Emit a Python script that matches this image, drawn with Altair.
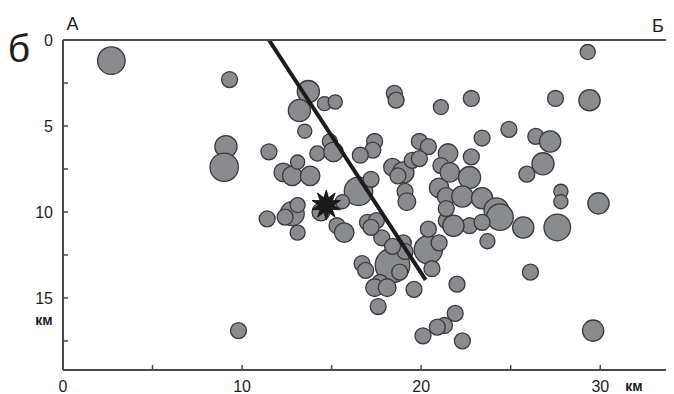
import math
import altair as alt
import pandas as pd

# ---- data (distance along profile, depth, magnitude) ----
dist_km = [
    2.7, 9.3, 9.1, 9.0, 11.5, 9.8, 11.4, 13.7, 13.2, 14.6,
    15.2, 13.5, 14.2, 14.9, 15.1, 12.3, 12.8, 13.1, 13.8, 12.8,
    12.4, 13.1, 13.1, 14.4, 15.3, 15.7, 18.5, 18.6, 21.1, 17.4,
    17.3, 16.6, 19.9, 20.4, 21.5, 18.4, 19.0, 18.7, 19.5, 21.1,
    16.5, 17.2, 15.6, 19.1, 19.2, 21.0, 21.4, 22.8, 27.5, 23.4,
    24.9, 26.4, 27.2, 22.8, 26.8, 25.9, 21.6, 22.7, 22.3, 23.4,
    24.2, 27.8, 27.8, 24.4, 22.7, 23.4, 25.7, 27.6, 23.7, 26.1,
    22.0, 21.9, 21.3, 20.9, 20.1, 22.3, 29.9, 29.6, 29.3, 29.4,
    19.9, 18.4, 20.4, 16.7, 16.9, 17.7, 17.4, 18.1, 17.6, 18.8,
    19.6, 20.6, 17.8, 17.0, 17.5, 17.2, 19.0, 19.1, 18.4, 20.4,
    21.0, 21.4, 21.8, 21.4,
]
depth_km = [
    1.2, 2.3, 6.2, 7.4, 6.5, 16.9, 10.4, 3.0, 4.1, 3.7,
    3.6, 5.3, 6.6, 5.9, 6.5, 7.7, 7.9, 7.1, 7.9, 10.1,
    10.3, 9.6, 11.2, 10.0, 10.8, 11.2, 3.1, 3.5, 3.9, 5.9,
    6.4, 6.7, 5.9, 6.2, 6.6, 7.4, 7.7, 7.9, 7.0, 7.3,
    8.8, 8.1, 9.4, 8.8, 9.4, 8.6, 9.1, 3.4, 3.4, 5.7,
    5.2, 5.6, 5.9, 6.8, 7.2, 7.8, 7.7, 8.0, 9.1, 9.2,
    9.9, 8.8, 9.4, 10.3, 10.8, 10.6, 10.9, 10.9, 11.7, 13.5,
    14.2, 15.9, 16.6, 16.7, 17.2, 17.5, 9.5, 16.9, 0.7, 3.5,
    6.9, 13.1, 12.2, 13.0, 13.4, 14.1, 14.4, 14.4, 15.5, 13.5,
    14.5, 13.3, 11.5, 10.6, 10.5, 10.9, 11.8, 12.3, 12.0, 11.0,
    11.8, 10.5, 10.8, 9.8,
]
magnitude = [
    3.1, 1.8, 2.5, 3.2, 1.8, 1.8, 1.8, 2.5, 2.5, 1.6,
    1.6, 1.6, 1.7, 1.7, 2.2, 2.1, 2.2, 1.6, 2.2, 2.7,
    1.8, 1.7, 1.7, 2.0, 1.8, 2.2, 1.8, 1.8, 1.7, 1.8,
    1.8, 1.8, 1.8, 1.8, 2.2, 2.0, 2.4, 1.8, 1.8, 1.8,
    3.2, 1.8, 1.6, 1.8, 2.0, 2.2, 2.0, 1.8, 1.8, 1.8,
    1.8, 1.8, 2.4, 1.8, 2.5, 1.8, 2.2, 2.5, 2.4, 2.4,
    2.8, 1.6, 1.6, 3.0, 1.8, 1.8, 2.4, 3.0, 1.7, 1.8,
    1.8, 1.8, 1.8, 1.8, 1.8, 1.8, 2.4, 2.4, 1.7, 2.4,
    1.8, 3.9, 3.2, 1.8, 1.8, 1.8, 2.0, 2.0, 1.8, 1.8,
    1.8, 1.8, 1.8, 1.8, 1.8, 1.8, 1.8, 1.8, 1.8, 1.8,
    1.8, 1.8, 2.4, 1.8,
]

fault_dist = [11.5, 20.25]
fault_depth = [0.0, 13.95]

main_shock_dist = [14.7]
main_shock_depth = [9.6]

x_tick_values = [0, 5, 10, 15, 20, 25, 30]
x_label_values = [0, 10, 20, 30]
y_tick_values = [0, 2.5, 5, 7.5, 10, 12.5, 15, 17.5]
y_label_values = [0, 5, 10, 15]

# ---- layout / style ----
W, H = 603, 330
X_MAX, Y_MAX = 33.67, 19.19
AXIS_COLOR = "#4a4a4a"
FONT = "Liberation Sans"
TEXT_COLOR = "#1e1e1e"

xs = alt.Scale(domain=[0, X_MAX], nice=False, zero=False)
ys = alt.Scale(domain=[0, Y_MAX], nice=False, zero=False, reverse=True)

quakes = pd.DataFrame({"dist": dist_km, "depth": depth_km, "mag": magnitude})
fault = pd.DataFrame({"x": [fault_dist[0]], "y": [fault_depth[0]],
                      "x2": [fault_dist[1]], "y2": [fault_depth[1]]})
shock = pd.DataFrame({"dist": main_shock_dist, "depth": main_shock_depth})
xt = pd.DataFrame({"t": x_tick_values})
xl = pd.DataFrame({"t": x_label_values})
yt = pd.DataFrame({"t": y_tick_values})
yl = pd.DataFrame({"t": y_label_values})
one = pd.DataFrame({"a": [0]})


def star_path(n=10, inner=0.5):
    pts = []
    for i in range(2 * n):
        r = 1.0 if i % 2 == 0 else inner
        a = math.pi * i / n - math.pi / 2
        pts.append(f"{r * math.cos(a):.3f},{r * math.sin(a):.3f}")
    return "M" + "L".join(pts) + "Z"


frame_left = alt.Chart(one).mark_rule(color=AXIS_COLOR, strokeWidth=2).encode(
    x=alt.value(0), y=alt.value(0), y2=alt.value(H))
frame_bottom = alt.Chart(one).mark_rule(color=AXIS_COLOR, strokeWidth=2).encode(
    y=alt.value(H), x=alt.value(0), x2=alt.value(W))
frame_top = alt.Chart(one).mark_rule(color=AXIS_COLOR, strokeWidth=2).encode(
    y=alt.value(0), x=alt.value(0), x2=alt.value(W))

x_ticks = alt.Chart(xt).mark_rule(color=AXIS_COLOR, strokeWidth=1.5).encode(
    x=alt.X("t:Q", scale=xs, axis=None), y=alt.value(H), y2=alt.value(H - 5))
y_ticks = alt.Chart(yt).mark_rule(color=AXIS_COLOR, strokeWidth=1.5).encode(
    y=alt.Y("t:Q", scale=ys, axis=None), x=alt.value(0), x2=alt.value(5))

x_labels = alt.Chart(xl).mark_text(font=FONT, fontSize=16, color=TEXT_COLOR,
                                   baseline="alphabetic", align="center").encode(
    x=alt.X("t:Q", scale=xs, axis=None), y=alt.value(H + 22),
    text=alt.Text("t:Q", format="d"))
y_labels = alt.Chart(yl).mark_text(font=FONT, fontSize=16, color=TEXT_COLOR,
                                   baseline="middle", align="right", dy=1).encode(
    y=alt.Y("t:Q", scale=ys, axis=None), x=alt.value(-10),
    text=alt.Text("t:Q", format="d"))

circles = alt.Chart(quakes).mark_point(
    shape="circle", filled=True, fill="#8a8b8f", stroke="#3a3a3a",
    strokeWidth=1.3, opacity=1, fillOpacity=1, strokeOpacity=1).encode(
    x=alt.X("dist:Q", scale=xs, axis=None),
    y=alt.Y("depth:Q", scale=ys, axis=None),
    size=alt.Size("mag:Q", scale=alt.Scale(type="pow", exponent=2, domain=[0, 4],
                                           range=[0, 1257]), legend=None))

fault_line = alt.Chart(fault).mark_rule(color="#1c1c1c", strokeWidth=4).encode(
    x=alt.X("x:Q", scale=xs, axis=None), y=alt.Y("y:Q", scale=ys, axis=None),
    x2="x2:Q", y2="y2:Q")

star = alt.Chart(shock).mark_point(
    shape=star_path(), filled=True, fill="#1a1a1a", stroke="#1a1a1a",
    strokeWidth=1, size=900, opacity=1).encode(
    x=alt.X("dist:Q", scale=xs, axis=None), y=alt.Y("depth:Q", scale=ys, axis=None))


def note(txt, x, y, size, weight="normal", baseline="alphabetic"):
    return alt.Chart(one).mark_text(text=txt, font=FONT, fontSize=size, fontWeight=weight,
                                    color=TEXT_COLOR, align="center",
                                    baseline=baseline).encode(x=alt.value(x), y=alt.value(y))


notes = [
    note("б", -44, 22, 39),
    note("А", 9.5, -10, 18),
    note("Б", 595, -8, 18),
    note("км", -19, 281, 14, "bold", "middle"),
    note("км", 571, 347, 14, "bold", "middle"),
]

chart = alt.layer(
    circles, fault_line, star,
    frame_left, frame_bottom, frame_top, x_ticks, y_ticks, x_labels, y_labels,
    *notes
).properties(
    width=W, height=H,
    padding={"left": 55, "top": 32, "right": 0, "bottom": 24},
    autosize=alt.AutoSizeParams(type="none"),
).configure_view(stroke=None).configure(background="white")

chart.save("out.html", embed_options={"renderer": "svg", "actions": False})
